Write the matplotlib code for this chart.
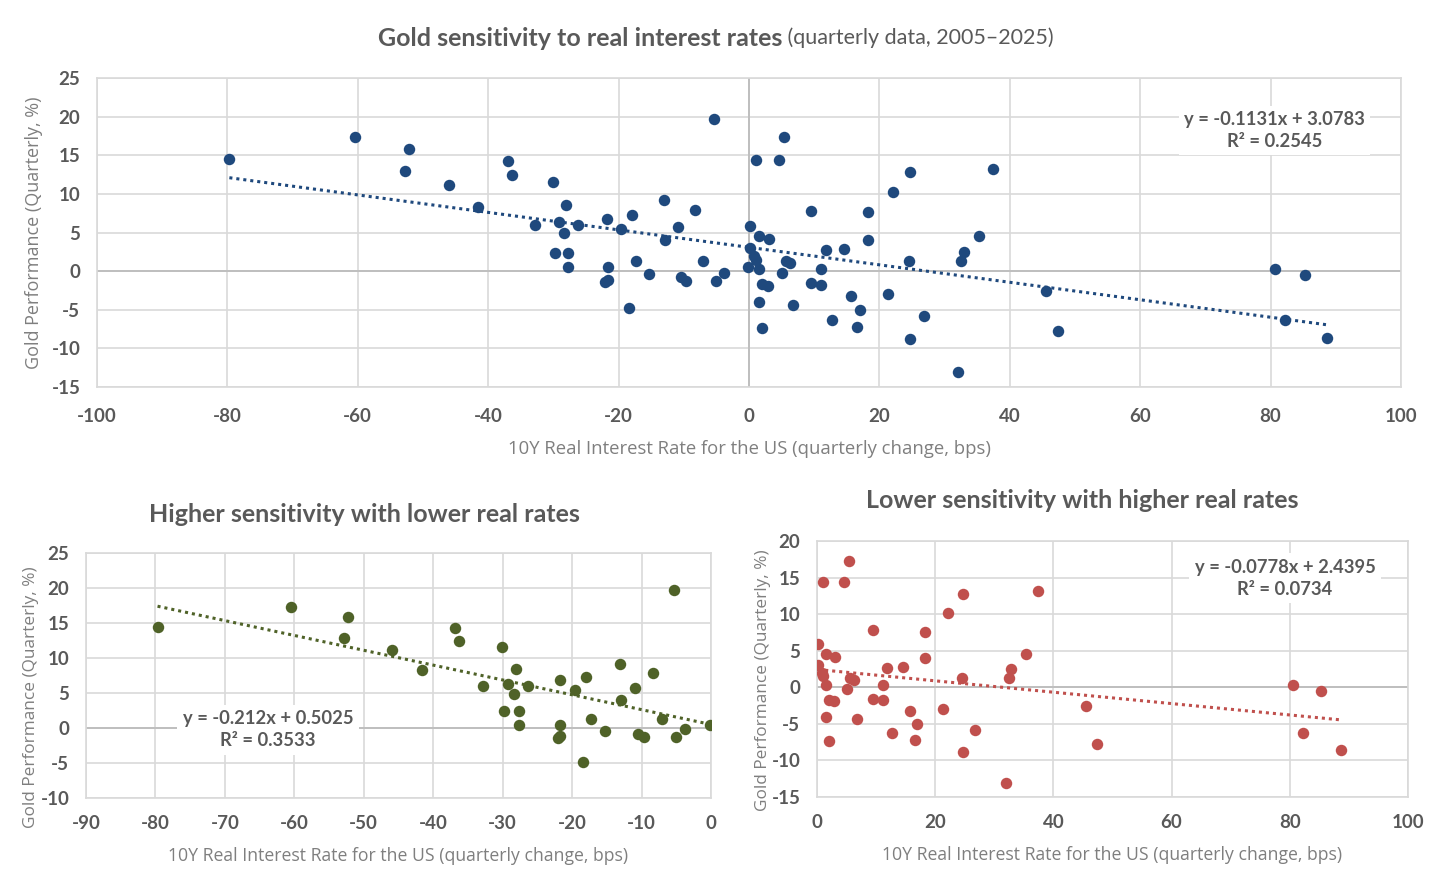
import matplotlib.pyplot as plt
import numpy as np

# quarterly change in US 10Y real rate (bps) vs gold quarterly performance (%)
# quarters where the real rate fell
neg_x = [-79.7, -60.5, -52.2, -52.8, -46.0, -41.6, -36.9, -36.3, -32.8, -30.1,
         -29.8, -29.2, -28.1, -28.4, -27.7, -27.7, -26.3, -22.1, -21.7, -21.7,
         -21.8, -19.6, -18.4, -18.0, -17.3, -15.3, -13.1, -12.9, -10.9, -10.5,
         -9.6, -8.3, -7.0, -5.4, -5.0, -3.8, -0.1]
neg_y = [14.5, 17.3, 15.8, 12.9, 11.2, 8.3, 14.3, 12.5, 6.0, 11.6,
         2.4, 6.3, 8.5, 4.9, 2.4, 0.5, 6.0, -1.4, -1.1, 0.5,
         6.8, 5.5, -4.8, 7.3, 1.3, -0.4, 9.2, 4.0, 5.7, -0.8,
         -1.3, 7.9, 1.3, 19.7, -1.3, -0.2, 0.5]
# quarters where the real rate rose
pos_x = [0.2, 0.2, 1.0, 0.8, 1.0, 1.5, 1.5, 1.5, 2.0, 2.0,
         2.9, 3.1, 4.6, 5.4, 5.1, 5.6, 6.3, 6.7, 9.5, 9.5,
         11.1, 11.1, 11.8, 12.7, 14.5, 15.7, 16.5, 17.0, 18.3, 18.3,
         21.3, 22.1, 24.7, 24.5, 24.7, 26.8, 32.0, 32.5, 32.9, 35.3,
         37.4, 45.5, 47.4, 80.6, 82.2, 85.2, 88.7]
pos_y = [5.9, 3.0, 14.4, 1.9, 1.5, 4.6, 0.3, -4.0, -1.7, -7.3,
         -1.9, 4.1, 14.4, 17.3, -0.3, 1.3, 1.0, -4.4, 7.8, -1.6,
         0.3, -1.8, 2.7, -6.3, 2.8, -3.2, -7.2, -5.0, 7.6, 4.0,
         -3.0, 10.2, 12.8, 1.3, -8.8, -5.8, -13.1, 1.3, 2.5, 4.6,
         13.2, -2.6, -7.8, 0.3, -6.3, -0.5, -8.6]

all_x = neg_x + pos_x
all_y = neg_y + pos_y

# trendline coefficients (slope, intercept) as printed on the chart
fit_all = (-0.1131, 3.0783)
fit_neg = (-0.212, 0.5025)
fit_pos = (-0.0778, 2.4395)
eq_all = 'y = -0.1131x + 3.0783\nR² = 0.2545'
eq_neg = 'y = -0.212x + 0.5025\nR² = 0.3533'
eq_pos = 'y = -0.0778x + 2.4395\nR² = 0.0734'

xlabel = '10Y Real Interest Rate for the US (quarterly change, bps)'
ylabel = 'Gold Performance (Quarterly, %)'

plt.rcParams['axes.unicode_minus'] = False
W, H = 1440, 884
fig = plt.figure(figsize=(W / 100, H / 100), dpi=100)
fig.patch.set_facecolor('white')

GRID = '#d9d9d9'
TXT = '#595959'
LBL = '#7f7f7f'


def rect(l, t, r, b):
    return [l / W, 1 - b / H, (r - l) / W, (b - t) / H]


def panel(box, xs, ys, color, fit, eq, eq_xy, xlim, xticks, ylim, yticks,
          xpad=15, lsize=13.3, ylab_xy=None):
    ax = fig.add_axes(rect(*box))
    ax.set_xlim(*xlim)
    ax.set_ylim(*ylim)
    ax.set_xticks(xticks)
    ax.set_yticks(yticks)
    ax.grid(True, color=GRID, lw=1.2, zorder=0)
    ax.set_axisbelow(True)
    for s in ax.spines.values():
        s.set_color(GRID)
        s.set_linewidth(1.2)
    ax.axhline(0, color='#bfbfbf', lw=1.4, zorder=1)
    if xlim[0] < 0 < xlim[1]:
        ax.axvline(0, color='#bfbfbf', lw=1.4, zorder=1)
    ax.tick_params(length=0, labelsize=13.5, labelcolor=TXT)
    ax.tick_params(axis='x', pad=xpad)
    ax.tick_params(axis='y', pad=12)
    for t in ax.get_xticklabels() + ax.get_yticklabels():
        t.set_family('Lato')
        t.set_weight('bold')
    ax.scatter(xs, ys, s=68, color=color, linewidth=0, zorder=3)
    lx = np.array([min(xs), max(xs)])
    ax.plot(lx, fit[0] * lx + fit[1], color=color, lw=2.2, ls=(0, (1, 1.3)), zorder=2)
    ax.text(eq_xy[0], eq_xy[1], eq, transform=ax.transAxes, ha='center', va='center',
            fontsize=13.2, family='Lato', weight='bold', color=TXT, linespacing=1.35,
            bbox=dict(facecolor='white', edgecolor='none', pad=4), zorder=4)
    ax.set_xlabel(xlabel, family='Open Sans', fontsize=lsize, color=LBL, labelpad=11)
    ax.set_ylabel(ylabel, family='Open Sans', fontsize=lsize - 0.3, color=LBL, labelpad=6)
    if ylab_xy is not None:
        ax.yaxis.set_label_coords(*ylab_xy)
    return ax


panel((97, 78, 1401, 387), all_x, all_y, '#1f497d', fit_all, eq_all, (0.903, 0.83),
      (-100, 100), range(-100, 101, 20), (-15, 25), range(-15, 26, 5))
panel((86, 553, 711, 798), neg_x, neg_y, '#4f6228', fit_neg, eq_neg, (0.291, 0.278),
      (-90, 0), range(-90, 1, 10), (-10, 25), range(-10, 26, 5), xpad=12,
      lsize=12.7, ylab_xy=((39 - 86) / 625, (798 - 697) / 245))
panel((817, 541, 1408, 797), pos_x, pos_y, '#c0504d', fit_pos, eq_pos, (0.792, 0.855),
      (0, 100), range(0, 101, 20), (-15, 20), range(-15, 21, 5), xpad=12,
      lsize=12.7, ylab_xy=((771 - 817) / 591, (797 - 680) / 256))

# titles
t1 = fig.text(0.0, 0.0, 'Gold sensitivity to real interest rates', family='Lato',
              weight='bold', fontsize=18, color=TXT, ha='left', va='center')
fig.canvas.draw()
wmain = t1.get_window_extent().width
sub = ' (quarterly data, 2005\u20132025)'
t2 = fig.text(0, 0, sub, family='Lato', fontsize=15.5, color=TXT, ha='left', va='center')
fig.canvas.draw()
wsub = t2.get_window_extent().width
x0 = (716 - (wmain + wsub) / 2) / W
t1.set_position((x0, 1 - 38 / H))
t2.set_position((x0 + wmain / W, 1 - 38 / H))

fig.text(364 / W, 1 - 514 / H, 'Higher sensitivity with lower real rates', family='Lato',
         weight='bold', fontsize=18, color=TXT, ha='center', va='center')
fig.text(1082 / W, 1 - 500 / H, 'Lower sensitivity with higher real rates', family='Lato',
         weight='bold', fontsize=18, color=TXT, ha='center', va='center')

fig.savefig('out.png', dpi=100, facecolor='white')
